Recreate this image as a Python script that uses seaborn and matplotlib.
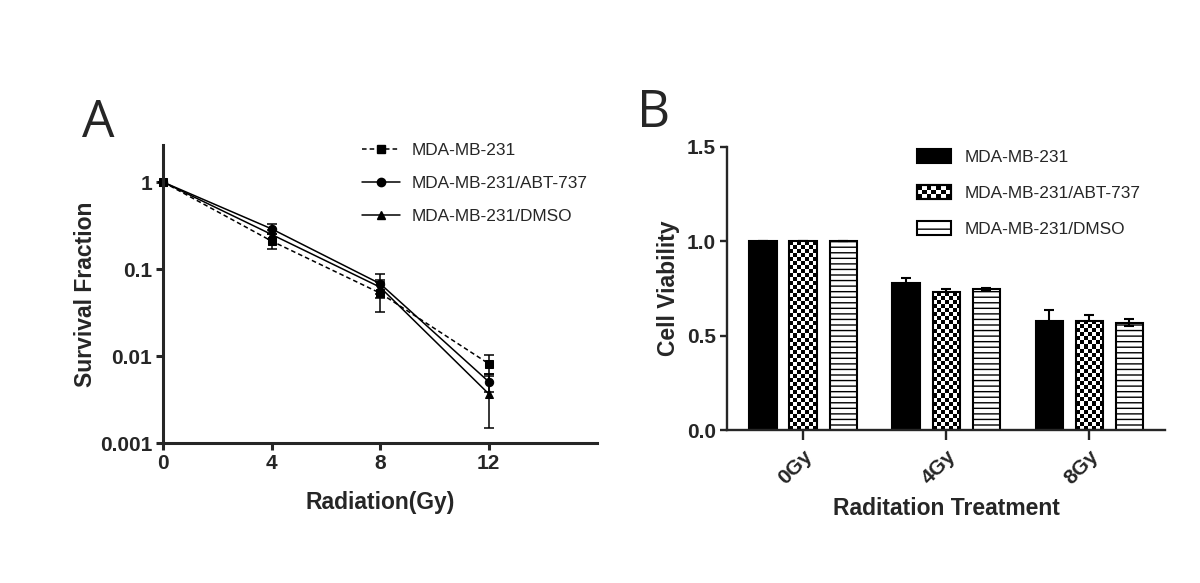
import matplotlib
matplotlib.use("Agg")
import matplotlib.pyplot as plt
import numpy as np
import pandas as pd
import seaborn as sns
from matplotlib.patches import Patch, Rectangle
from matplotlib.lines import Line2D
from matplotlib.legend_handler import HandlerBase
from matplotlib.ticker import FixedLocator, FixedFormatter, NullLocator

sns.set_style("ticks")
plt.rcParams['font.family'] = ['Liberation Sans', 'DejaVu Sans']
plt.rcParams['hatch.linewidth'] = 1.0

# panel A data
dose = [0, 4, 8, 12]
groups = ["MDA-MB-231", "MDA-MB-231/ABT-737", "MDA-MB-231/DMSO"]
sf_parent = [1.0, 0.21, 0.053, 0.0082]
sf_parent_err = [0.0, 0.04, 0.021, 0.002]
sf_abt = [1.0, 0.29, 0.068, 0.0051]
sf_abt_err = [0.0, 0.04, 0.021, 0.0012]
sf_dmso = [1.0, 0.25, 0.062, 0.0037]
sf_dmso_err = [0.0, 0.03, 0.01, 0.0022]

# panel B data
treatments = ["0Gy", "4Gy", "8Gy"]
via_parent = [1.0, 0.78, 0.58]
via_parent_err = [0.0, 0.025, 0.055]
via_abt = [1.0, 0.73, 0.58]
via_abt_err = [0.0, 0.02, 0.03]
via_dmso = [1.0, 0.75, 0.57]
via_dmso_err = [0.0, 0.005, 0.02]

fig = plt.figure(figsize=(12, 5.83), dpi=100)

# ---------- A ----------
axA = fig.add_axes([0.136, 0.240, 0.3615, 0.511])
series = [
    (sf_parent, sf_parent_err, "s", (0, (3, 2))),
    (sf_abt, sf_abt_err, "o", "-"),
    (sf_dmso, sf_dmso_err, "^", "-"),
]
for name, (vals, errs, mk, ls) in zip(groups, series):
    sns.lineplot(x=dose, y=vals, ax=axA, color="black", marker=mk, markersize=6,
                 linestyle=ls, linewidth=1.1, markeredgecolor="black", clip_on=False)
    axA.errorbar(dose, vals, yerr=errs, fmt="none", ecolor="black",
                 elinewidth=1.1, capsize=3.6, capthick=1.1, clip_on=False)

axA.set_yscale("log")
axA.set_ylim(0.001, 2.66)
axA.set_xlim(0, 16)
axA.yaxis.set_major_locator(FixedLocator([0.001, 0.01, 0.1, 1]))
axA.yaxis.set_major_formatter(FixedFormatter(["0.001", "0.01", "0.1", "1"]))
axA.yaxis.set_minor_locator(NullLocator())
axA.set_xticks([0, 4, 8, 12])
for s in ["top", "right"]:
    axA.spines[s].set_visible(False)
for s in ["left", "bottom"]:
    axA.spines[s].set_linewidth(2.2)
axA.tick_params(width=2.2, length=5, labelsize=15, pad=3)
for lab in axA.get_xticklabels() + axA.get_yticklabels():
    lab.set_fontweight("bold")
axA.set_xlabel("Radiation(Gy)", fontsize=16.5, fontweight="bold", labelpad=13)
axA.set_ylabel("Survival Fraction", fontsize=16.5, fontweight="bold", labelpad=2)

hA = [Line2D([], [], color="black", marker=m, markersize=6, linestyle=l, linewidth=1.1)
      for (_, _, m, l) in series]
axA.legend(hA, groups, loc="upper left", bbox_to_anchor=(362 / 1200, 1 - 143 / 583),
           bbox_transform=fig.transFigure, frameon=False, fontsize=12.4,
           handlelength=2.2, handletextpad=0.7, labelspacing=1.05,
           borderpad=0, borderaxespad=0)

fig.text(82 / 1200, 1 - 137 / 583, "A", fontsize=37, family="Open Sans")
fig.text(637 / 1200, 1 - 127 / 583, "B", fontsize=37, family="Open Sans")

# ---------- B ----------
axB = fig.add_axes([0.606, 0.262, 0.365, 0.486])
df = pd.DataFrame({
    "treatment": treatments * 3,
    "viability": via_parent + via_abt + via_dmso,
    "group": [g for g in groups for _ in treatments],
})
sns.barplot(data=df, x="treatment", y="viability", hue="group", hue_order=groups,
            palette=["black", "white", "white"], edgecolor="black", linewidth=1.5,
            width=0.84, gap=0.32, errorbar=None, legend=False, ax=axB)
axB.set_xlim(-0.53, 2.53)
axB.set_ylim(0, 1.5)
axB.set_yticks([0.0, 0.5, 1.0, 1.5])
axB.set_yticklabels(["0.0", "0.5", "1.0", "1.5"])

errs_all = [via_parent_err, via_abt_err, via_dmso_err]
for cont, errs in zip(axB.containers, errs_all):
    xs = [p.get_x() + p.get_width() / 2 for p in cont.patches]
    hs = [p.get_height() for p in cont.patches]
    axB.errorbar(xs, hs, yerr=errs, fmt="none", ecolor="black", elinewidth=1.5,
                 capsize=3.6, capthick=1.5, zorder=1)

# stripes on DMSO bars
for p in axB.containers[2].patches:
    p.set_hatch("---")

# checkerboard on ABT-737 bars
sq = 4.0
tr = axB.transData
for p in axB.containers[1].patches:
    x0, w, h = p.get_x(), p.get_width(), p.get_height()
    (px0, py0), (px1, py1) = tr.transform([(x0, 0), (x0 + w, h)])
    ncol = max(1, int(round((px1 - px0) / sq)))
    nrow = max(1, int(round((py1 - py0) / sq)))
    board = np.add.outer(np.arange(nrow), np.arange(ncol)) % 2
    im = axB.imshow(board, cmap="gray", extent=(x0, x0 + w, 0, h), origin="lower",
                    interpolation="nearest", aspect="auto", zorder=1.5)
    im.set_clip_path(p)
    p.set_zorder(2)
    p.set_facecolor("none")
axB.set_xlim(-0.53, 2.53)
axB.set_ylim(0, 1.5)
axB.set_aspect("auto")

for s in ["top", "right"]:
    axB.spines[s].set_visible(False)
for s in ["left", "bottom"]:
    axB.spines[s].set_linewidth(1.7)
axB.tick_params(width=1.7, length=5, labelsize=15, pad=3)
axB.tick_params(axis="x", length=7, pad=5)
for lab in axB.get_yticklabels():
    lab.set_fontweight("bold")
for lab in axB.get_xticklabels():
    lab.set_fontweight("bold")
    lab.set_rotation(45)
    lab.set_ha("right")
    lab.set_rotation_mode("anchor")
axB.set_xlabel("Raditation Treatment", fontsize=16.5, fontweight="bold", labelpad=6)
axB.set_ylabel("Cell Viability", fontsize=16.5, fontweight="bold", labelpad=5)


class CheckerHandler(HandlerBase):
    def create_artists(self, legend, orig, xd, yd, w, h, fontsize, trans):
        arts = [Rectangle((-xd, -yd), w, h, fc="white", ec="black", lw=1.5, transform=trans)]
        n, m = 7, 3
        sw, sh = w / n, h / m
        for i in range(n):
            for j in range(m):
                if (i + j) % 2 == 0:
                    arts.append(Rectangle((-xd + i * sw, -yd + j * sh), sw, sh,
                                          fc="black", ec="none", transform=trans))
        arts.append(Rectangle((-xd, -yd), w, h, fc="none", ec="black", lw=1.5, transform=trans))
        return arts


class CheckerKey:
    pass


hB = [Patch(fc="black", ec="black", lw=1.5), CheckerKey(),
      Patch(fc="white", ec="black", lw=1.5, hatch="--")]
axB.legend(hB, groups, handler_map={CheckerKey: CheckerHandler()},
           loc="upper left", bbox_to_anchor=(917 / 1200, 1 - 149 / 583),
           bbox_transform=fig.transFigure, frameon=False, fontsize=12.4,
           handlelength=1.95, handleheight=0.9, handletextpad=0.8, labelspacing=1.15,
           borderpad=0, borderaxespad=0)

fig.savefig("out.png", dpi=100)
